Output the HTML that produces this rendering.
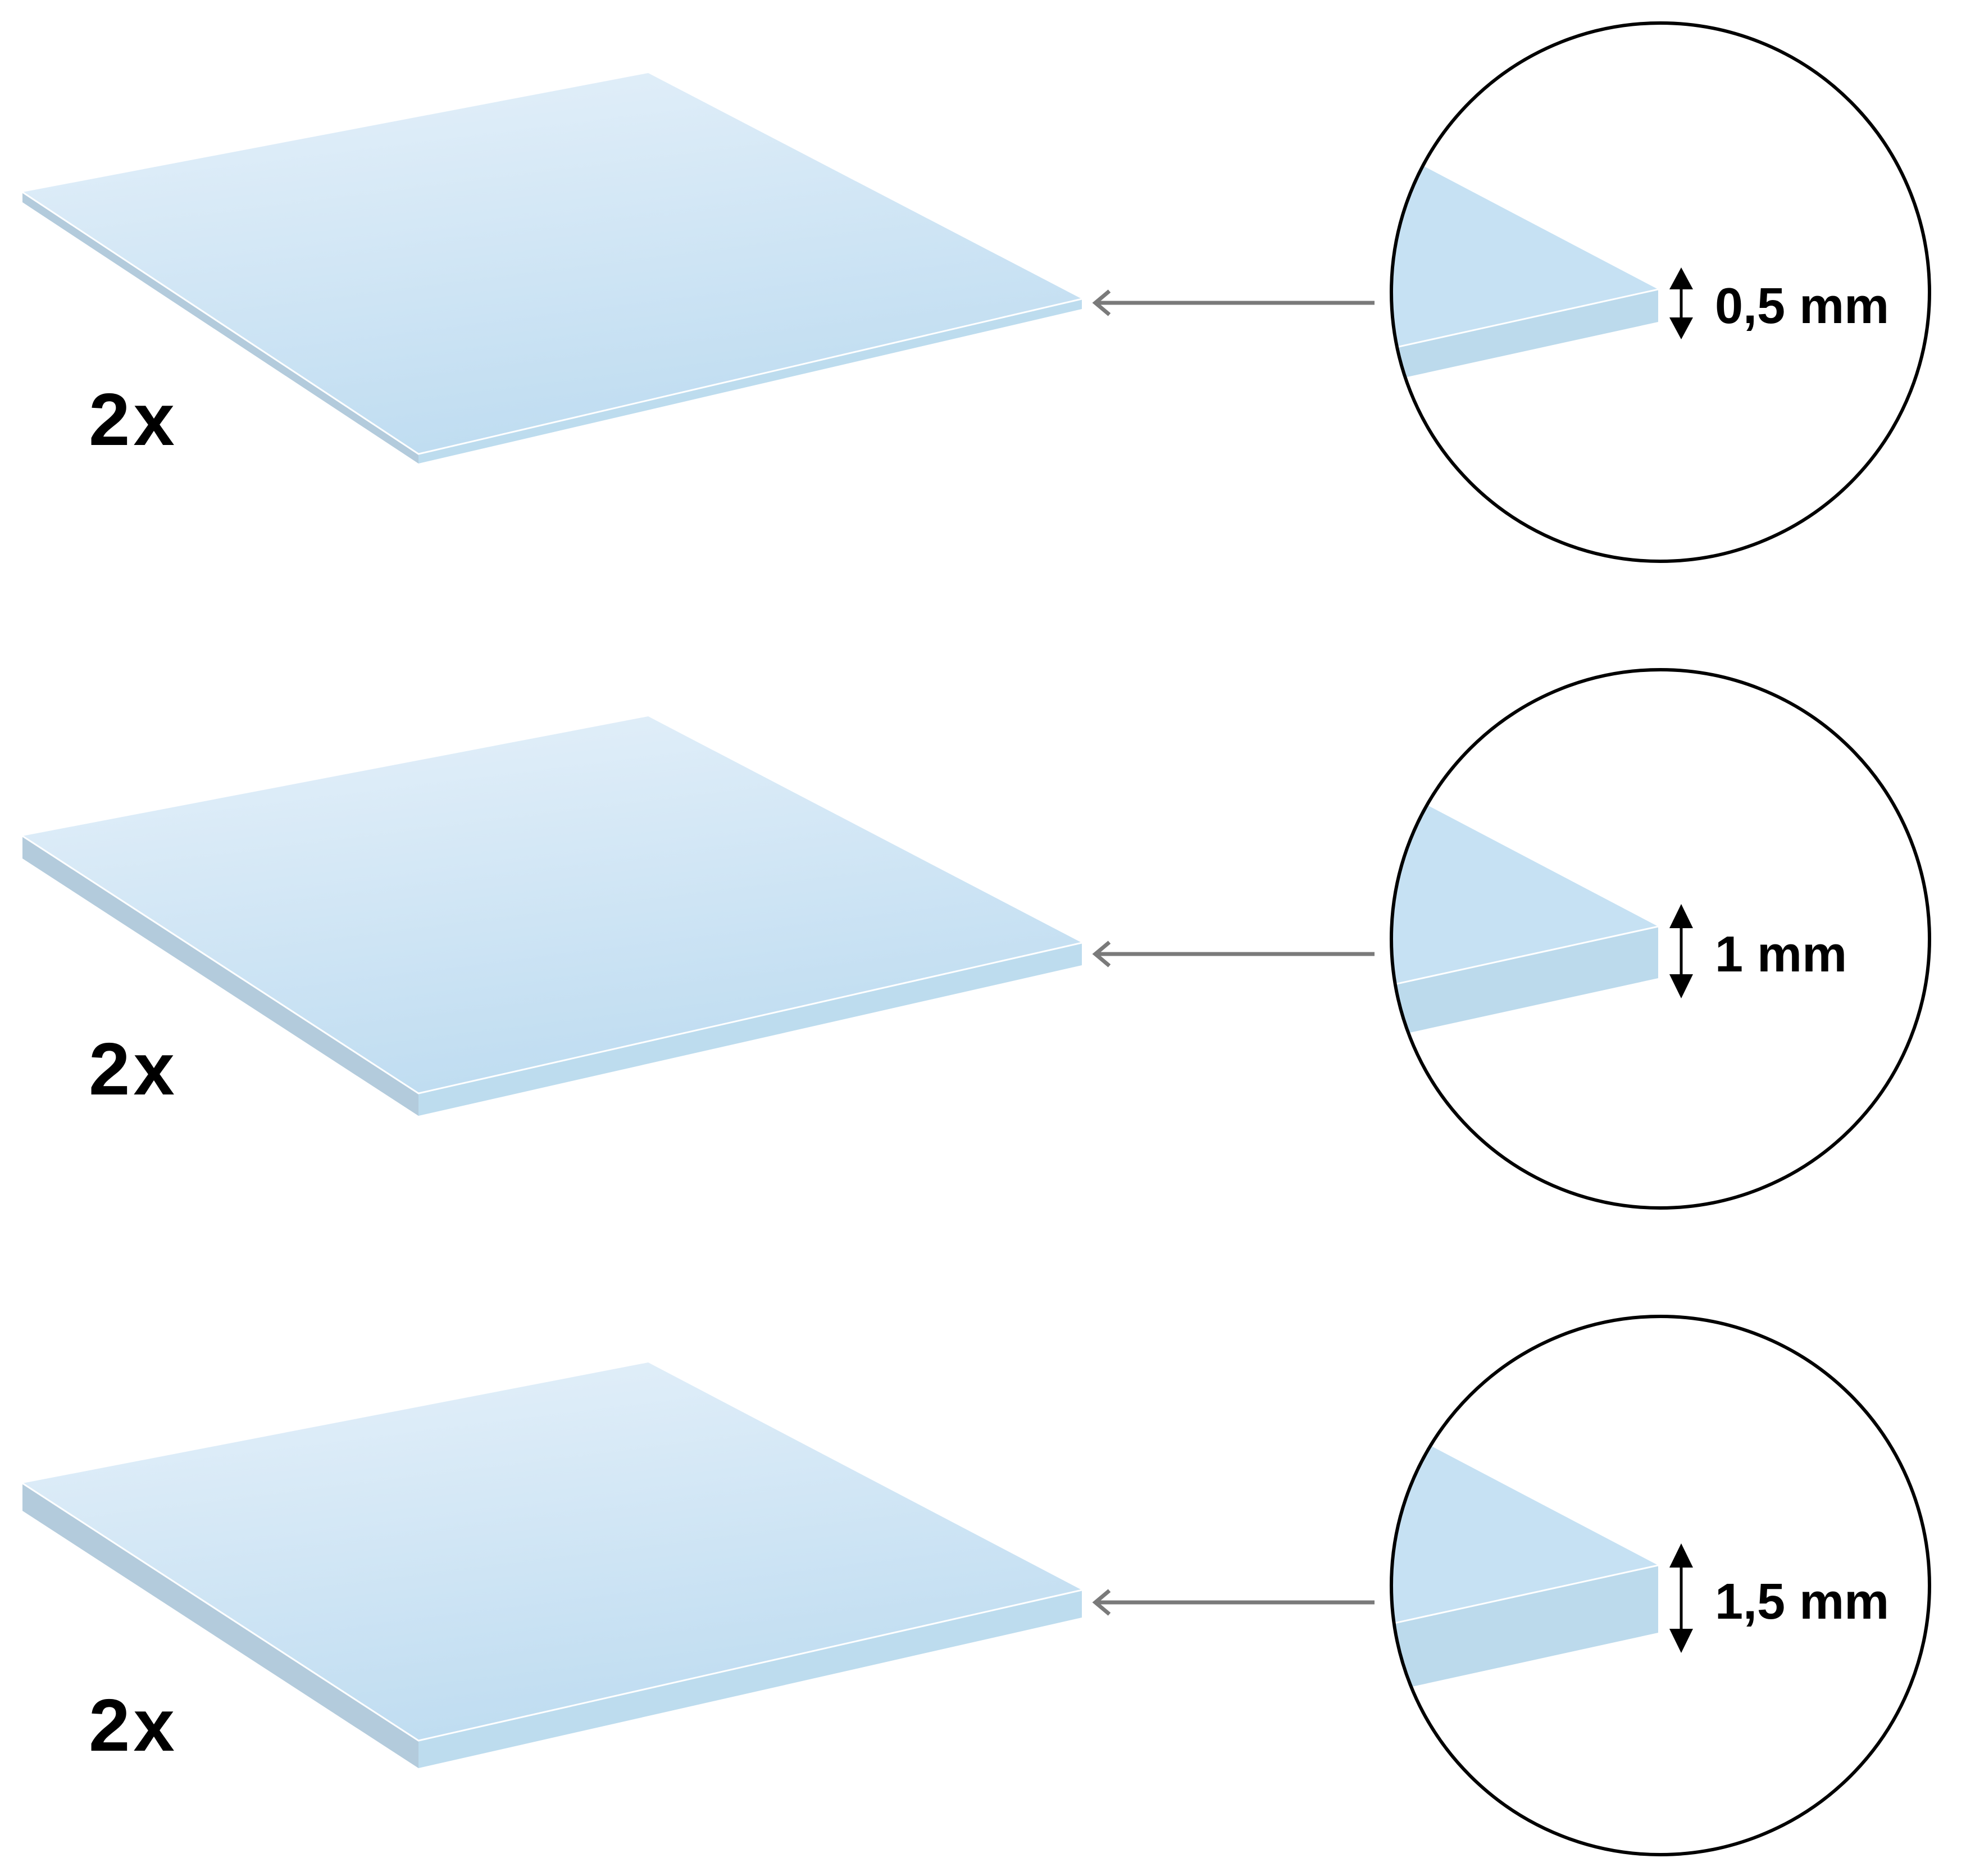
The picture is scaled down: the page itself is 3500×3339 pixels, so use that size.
<!DOCTYPE html>
<html><head><meta charset="utf-8"><style>
html,body{margin:0;padding:0;background:#fff;}
svg{display:block;}
text{font-family:"Liberation Sans",sans-serif;font-weight:bold;fill:#000;}
</style></head><body>
<svg width="3500" height="3339" viewBox="0 0 3500 3339" xmlns="http://www.w3.org/2000/svg">
<defs>
<linearGradient id="top" x1="0" y1="0" x2="0.35" y2="1">
<stop offset="0" stop-color="#e6f1fa"/><stop offset="1" stop-color="#c0ddf1"/>
</linearGradient>
<clipPath id="c1"><circle cx="2956" cy="520" r="479"/></clipPath>
<clipPath id="c2"><circle cx="2956" cy="1671" r="479"/></clipPath>
<clipPath id="c3"><circle cx="2956" cy="2822" r="479"/></clipPath>
</defs>

<polygon points="40,342 745,808 745,825 40,360" fill="#b3cbdc"/>
<polygon points="745,808 1926,532 1926,550 745,825" fill="#bddcee"/>
<polygon points="40,342 1154,130 1926,532 745,808" fill="url(#top)"/>
<polyline points="40,342 745,808 1926,532" fill="none" stroke="#fff" stroke-width="3"/>

<polygon points="40,1488 745,1946 745,1986 40,1528" fill="#b3cbdc"/>
<polygon points="745,1946 1926,1678 1926,1718 745,1986" fill="#bddcee"/>
<polygon points="40,1488 1154,1275 1926,1678 745,1946" fill="url(#top)"/>
<polyline points="40,1488 745,1946 1926,1678" fill="none" stroke="#fff" stroke-width="3"/>

<polygon points="40,2640 745,3098 745,3147 40,2689" fill="#b3cbdc"/>
<polygon points="745,3098 1926,2830 1926,2879 745,3147" fill="#bddcee"/>
<polygon points="40,2640 1154,2425 1926,2830 745,3098" fill="url(#top)"/>
<polyline points="40,2640 745,3098 1926,2830" fill="none" stroke="#fff" stroke-width="3"/>

<text x="158" y="792" font-size="132" letter-spacing="6">2x</text>
<text x="158" y="1948" font-size="132" letter-spacing="6">2x</text>
<text x="158" y="3116" font-size="132" letter-spacing="6">2x</text>

<g stroke="#7a7a7a" stroke-width="7" fill="none">
<line x1="2447" y1="539" x2="1950" y2="539"/>
<polyline points="1975,518 1950,539 1975,560"/>
<line x1="2447" y1="1698" x2="1950" y2="1698"/>
<polyline points="1975,1677 1950,1698 1975,1719"/>
<line x1="2447" y1="2852" x2="1950" y2="2852"/>
<polyline points="1975,2831 1950,2852 1975,2873"/>
</g>

<g clip-path="url(#c1)">
<polygon points="2952,515 2400,225 2400,637" fill="#c6e1f3"/>
<polygon points="2952,515 2952,573 2400,694 2400,637" fill="#bcdaec"/>
<line x1="2952" y1="515" x2="2400" y2="637" stroke="#fff" stroke-width="3"/>
</g>
<circle cx="2956" cy="520" r="479" fill="none" stroke="#000" stroke-width="6"/>

<g clip-path="url(#c2)">
<polygon points="2952,1649 2400,1359 2400,1770" fill="#c6e1f3"/>
<polygon points="2952,1649 2952,1741 2400,1862 2400,1770" fill="#bcdaec"/>
<line x1="2952" y1="1649" x2="2400" y2="1770" stroke="#fff" stroke-width="3"/>
</g>
<circle cx="2956" cy="1671" r="479" fill="none" stroke="#000" stroke-width="6"/>

<g clip-path="url(#c3)">
<polygon points="2952,2786 2400,2496 2400,2907" fill="#c6e1f3"/>
<polygon points="2952,2786 2952,2906 2400,3027 2400,2907" fill="#bcdaec"/>
<line x1="2952" y1="2786" x2="2400" y2="2907" stroke="#fff" stroke-width="3"/>
</g>
<circle cx="2956" cy="2822" r="479" fill="none" stroke="#000" stroke-width="6"/>

<g fill="#000" stroke="#000">
<line x1="2993" y1="500" x2="2993" y2="580" stroke-width="5"/>
<polygon points="2993,476 2972,515 3014,515" stroke="none"/>
<polygon points="2993,604 2972,565 3014,565" stroke="none"/>
<line x1="2993" y1="1635" x2="2993" y2="1750" stroke-width="5"/>
<polygon points="2993,1609 2972,1652 3014,1652" stroke="none"/>
<polygon points="2993,1777 2972,1734 3014,1734" stroke="none"/>
<line x1="2993" y1="2772" x2="2993" y2="2917" stroke-width="5"/>
<polygon points="2993,2747 2972,2790 3014,2790" stroke="none"/>
<polygon points="2993,2942 2972,2899 3014,2899" stroke="none"/>
</g>

<text x="3053" y="575" font-size="90">0,5 mm</text>
<text x="3053" y="1729" font-size="90">1 mm</text>
<text x="3053" y="2881" font-size="90">1,5 mm</text>
</svg>
</body></html>
